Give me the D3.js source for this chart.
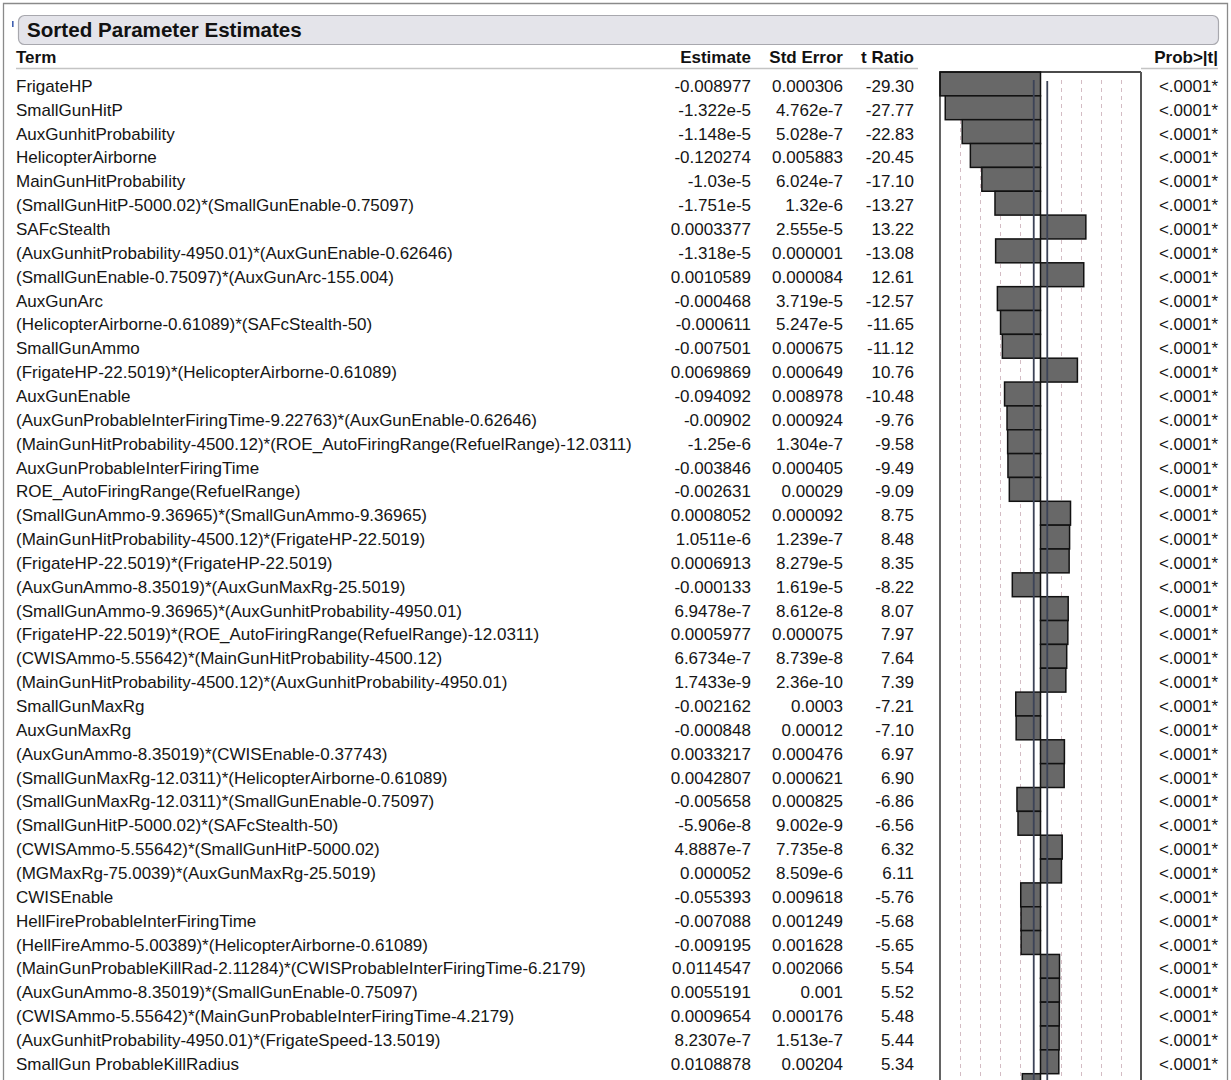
<!DOCTYPE html>
<html><head><meta charset="utf-8">
<script src="https://cdn.jsdelivr.net/npm/d3@7"></script>
<style>
html,body{margin:0;padding:0;background:#fff;}
svg{display:block;}
text{font-family:"Liberation Sans",Arial,sans-serif;}
</style></head><body><svg id="c" width="1231" height="1080"></svg>
<script>
const title = "Sorted Parameter Estimates";
const columns = ["Term", "Estimate", "Std Error", "t Ratio", "Prob>|t|"];
const terms = [
 "FrigateHP","SmallGunHitP","AuxGunhitProbability","HelicopterAirborne","MainGunHitProbability",
 "(SmallGunHitP-5000.02)*(SmallGunEnable-0.75097)","SAFcStealth",
 "(AuxGunhitProbability-4950.01)*(AuxGunEnable-0.62646)","(SmallGunEnable-0.75097)*(AuxGunArc-155.004)",
 "AuxGunArc","(HelicopterAirborne-0.61089)*(SAFcStealth-50)","SmallGunAmmo",
 "(FrigateHP-22.5019)*(HelicopterAirborne-0.61089)","AuxGunEnable",
 "(AuxGunProbableInterFiringTime-9.22763)*(AuxGunEnable-0.62646)",
 "(MainGunHitProbability-4500.12)*(ROE_AutoFiringRange(RefuelRange)-12.0311)",
 "AuxGunProbableInterFiringTime","ROE_AutoFiringRange(RefuelRange)",
 "(SmallGunAmmo-9.36965)*(SmallGunAmmo-9.36965)","(MainGunHitProbability-4500.12)*(FrigateHP-22.5019)",
 "(FrigateHP-22.5019)*(FrigateHP-22.5019)","(AuxGunAmmo-8.35019)*(AuxGunMaxRg-25.5019)",
 "(SmallGunAmmo-9.36965)*(AuxGunhitProbability-4950.01)",
 "(FrigateHP-22.5019)*(ROE_AutoFiringRange(RefuelRange)-12.0311)",
 "(CWISAmmo-5.55642)*(MainGunHitProbability-4500.12)",
 "(MainGunHitProbability-4500.12)*(AuxGunhitProbability-4950.01)",
 "SmallGunMaxRg","AuxGunMaxRg","(AuxGunAmmo-8.35019)*(CWISEnable-0.37743)",
 "(SmallGunMaxRg-12.0311)*(HelicopterAirborne-0.61089)","(SmallGunMaxRg-12.0311)*(SmallGunEnable-0.75097)",
 "(SmallGunHitP-5000.02)*(SAFcStealth-50)","(CWISAmmo-5.55642)*(SmallGunHitP-5000.02)",
 "(MGMaxRg-75.0039)*(AuxGunMaxRg-25.5019)","CWISEnable","HellFireProbableInterFiringTime",
 "(HellFireAmmo-5.00389)*(HelicopterAirborne-0.61089)",
 "(MainGunProbableKillRad-2.11284)*(CWISProbableInterFiringTime-6.2179)",
 "(AuxGunAmmo-8.35019)*(SmallGunEnable-0.75097)",
 "(CWISAmmo-5.55642)*(MainGunProbableInterFiringTime-4.2179)",
 "(AuxGunhitProbability-4950.01)*(FrigateSpeed-13.5019)","SmallGun ProbableKillRadius"
];
const estimates = [
 "-0.008977","-1.322e-5","-1.148e-5","-0.120274","-1.03e-5","-1.751e-5","0.0003377","-1.318e-5","0.0010589",
 "-0.000468","-0.000611","-0.007501","0.0069869","-0.094092","-0.00902","-1.25e-6","-0.003846","-0.002631",
 "0.0008052","1.0511e-6","0.0006913","-0.000133","6.9478e-7","0.0005977","6.6734e-7","1.7433e-9","-0.002162",
 "-0.000848","0.0033217","0.0042807","-0.005658","-5.906e-8","4.8887e-7","0.000052","-0.055393","-0.007088",
 "-0.009195","0.0114547","0.0055191","0.0009654","8.2307e-7","0.0108878"
];
const stdErrors = [
 "0.000306","4.762e-7","5.028e-7","0.005883","6.024e-7","1.32e-6","2.555e-5","0.000001","0.000084",
 "3.719e-5","5.247e-5","0.000675","0.000649","0.008978","0.000924","1.304e-7","0.000405","0.00029",
 "0.000092","1.239e-7","8.279e-5","1.619e-5","8.612e-8","0.000075","8.739e-8","2.36e-10","0.0003",
 "0.00012","0.000476","0.000621","0.000825","9.002e-9","7.735e-8","8.509e-6","0.009618","0.001249",
 "0.001628","0.002066","0.001","0.000176","1.513e-7","0.00204"
];
const tRatios = [
 -29.30,-27.77,-22.83,-20.45,-17.10,-13.27,13.22,-13.08,12.61,-12.57,-11.65,-11.12,10.76,-10.48,-9.76,
 -9.58,-9.49,-9.09,8.75,8.48,8.35,-8.22,8.07,7.97,7.64,7.39,-7.21,-7.10,6.97,6.90,-6.86,-6.56,6.32,6.11,
 -5.76,-5.68,-5.65,5.54,5.52,5.48,5.44,5.34
];
const probs = terms.map(() => "<.0001*");
// next row, only its bar top is visible at the bottom edge
const nextRowT = [-5.30];
const gridFractions = [-0.8,-0.6,-0.4,-0.2,0.2,0.4,0.6,0.8];
const tCrit = 1.97;

const svg = d3.select("#c");
const W = 1231, H = 1080;
svg.append("rect").attr("width", W).attr("height", H).attr("fill", "#fff");

svg.append("path").attr("d", `M3.5,1080 V3.5 H1227.5 V1080`).attr("fill","none").attr("stroke","#8a8a8a").attr("stroke-width",1.3);
svg.append("rect").attr("x",12).attr("y",21).attr("width",1.6).attr("height",6).attr("fill","#4060b0");

svg.append("rect").attr("x",18.5).attr("y",15.5).attr("width",1200).attr("height",29).attr("rx",6)
  .attr("fill","#e4e4ea").attr("stroke","#a8a8ae").attr("stroke-width",1.2);
svg.append("text").attr("x",27).attr("y",37).attr("font-size",20.6).attr("font-weight","bold").attr("fill","#111").text(title);

const nRows = terms.length + nextRowT.length;
const rowH = 23.85, topY = 72;
const y = d3.scaleBand().domain(d3.range(nRows)).range([topY, topY + nRows * rowH]).padding(0);
const x = d3.scaleLinear().domain([-29.3, 29.3]).range([940, 1141]);

const colRight = {Estimate: 751, "Std Error": 843, "t Ratio": 914, "Prob>|t|": 1218};
const hdrY = 63;
svg.append("text").attr("x",16).attr("y",hdrY).attr("font-size",17).attr("font-weight","bold").attr("fill","#111").text(columns[0]);
columns.slice(1).forEach(c => {
  svg.append("text").attr("x",colRight[c]).attr("y",hdrY).attr("text-anchor","end")
    .attr("font-size",17).attr("font-weight","bold").attr("fill","#111").text(c);
});
svg.append("line").attr("x1",16).attr("x2",918).attr("y1",68.5).attr("y2",68.5).attr("stroke","#c4c4c4").attr("stroke-width",1.5);
svg.append("line").attr("x1",1141).attr("x2",1218).attr("y1",68.5).attr("y2",68.5).attr("stroke","#c4c4c4").attr("stroke-width",1.5);

const boxBottom = topY + nRows * rowH + 10;
const g = svg.append("g");
g.append("rect").attr("x", x(-29.3)).attr("y", topY).attr("width", x(29.3) - x(-29.3)).attr("height", boxBottom - topY).attr("fill","#fff");
g.selectAll("line.grid").data(gridFractions).join("line").attr("class","grid")
  .attr("x1", f => Math.round(x(f * 29.3)) + 0.5).attr("x2", f => Math.round(x(f * 29.3)) + 0.5)
  .attr("y1", topY + 8).attr("y2", boxBottom)
  .attr("stroke","#d4bcc4").attr("stroke-width",1).attr("stroke-dasharray","4,4");

const allT = tRatios.concat(nextRowT);
g.selectAll("rect.bar").data(allT).join("rect").attr("class","bar")
  .attr("x", d => x(Math.min(0, d))).attr("width", d => Math.abs(x(d) - x(0)))
  .attr("y", (d, i) => y(i)).attr("height", y.bandwidth())
  .attr("fill","#686868").attr("stroke","#111").attr("stroke-width",1.5);

g.append("line").attr("x1", x(-tCrit)).attr("x2", x(-tCrit)).attr("y1", topY + 8).attr("y2", boxBottom)
  .attr("stroke","#3c4357").attr("stroke-width",1.8);
g.append("line").attr("x1", x(tCrit)).attr("x2", x(tCrit)).attr("y1", topY + 9).attr("y2", boxBottom)
  .attr("stroke","#3c4357").attr("stroke-width",1.8);

g.append("path").attr("d", `M${x(-29.3)},${boxBottom} V${topY} H${x(29.3)}`).attr("fill","none").attr("stroke","#111").attr("stroke-width",1.3);
g.append("line").attr("x1", x(29.3)).attr("x2", x(29.3)).attr("y1", topY).attr("y2", boxBottom).attr("stroke","#555").attr("stroke-width",2);

const rows = svg.append("g").attr("font-size",17).attr("fill","#151515");
const cy = i => y(i) + y.bandwidth() / 2 + 8;
rows.selectAll("text.term").data(terms).join("text").attr("class","term")
  .attr("x",16).attr("y",(d,i)=>cy(i)).text(d=>d);
rows.selectAll("text.est").data(estimates).join("text").attr("class","est")
  .attr("x",colRight.Estimate).attr("y",(d,i)=>cy(i)).attr("text-anchor","end").text(d=>d);
rows.selectAll("text.se").data(stdErrors).join("text").attr("class","se")
  .attr("x",colRight["Std Error"]).attr("y",(d,i)=>cy(i)).attr("text-anchor","end").text(d=>d);
rows.selectAll("text.tr").data(tRatios).join("text").attr("class","tr")
  .attr("x",colRight["t Ratio"]).attr("y",(d,i)=>cy(i)).attr("text-anchor","end").text(d=>d.toFixed(2));
rows.selectAll("text.pr").data(probs).join("text").attr("class","pr")
  .attr("x",colRight["Prob>|t|"]).attr("y",(d,i)=>cy(i)).attr("text-anchor","end").text(d=>d);
</script></body></html>
